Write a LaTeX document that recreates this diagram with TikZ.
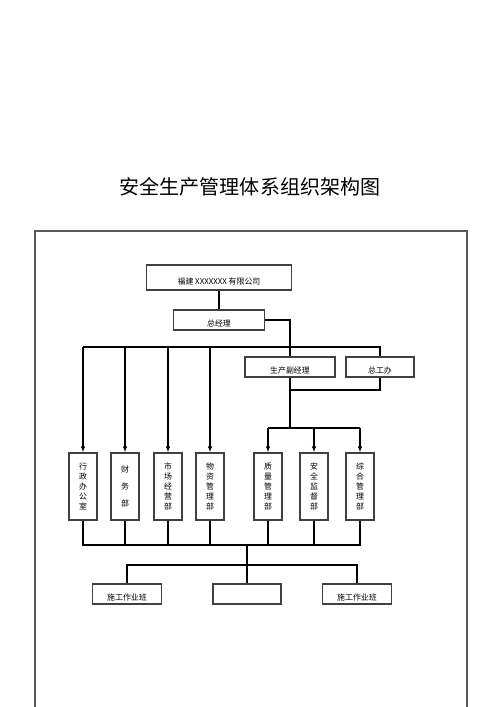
\documentclass[tikz,border=0pt]{standalone}
\usepackage{fontspec}
\setmainfont{Noto Sans CJK SC}
\usetikzlibrary{positioning}
\usetikzlibrary{arrows.meta}

\newcommand{\boxfont}{\fontsize{4.5}{5.6}\selectfont}

\begin{document}
\begin{tikzpicture}[x = 0.02cm, y = -0.02cm,
		wire/.style = {black, line width = 0.85pt},
		down/.style = {wire, -{Latex[length = 3.5pt, width = 2.6pt]}},
		hbox/.style = {draw = black!75, line width = 0.6pt, minimum height = 0.4cm, inner sep = 0pt,
			font = \boxfont, text height = 7pt, text depth = 0pt},
		vbox/.style = {draw = black!75, line width = 0.6pt, minimum width = 0.56cm, minimum height = 1.34cm,
			inner sep = 0pt, align = center, font = \boxfont}]
	\useasboundingbox (0, 0) rectangle (500, 707);
	\draw [gray!70!black, line width = 1pt] (35, 707) |- (467, 231) -- (467, 707);
	\node (title) at (250, 187) [font = \fontsize{11.4}{13}\selectfont] {安全生产管理体系组织架构图};

	\node [hbox, minimum width = 2.9cm, minimum height = 0.5cm, text height = 8.5pt] (company) at (219, 277.5) {福建 XXXXXXX 有限公司};
	\node [hbox, minimum width = 1.82cm] (manager) at (219, 320) {总经理};
	\node [hbox, minimum width = 1.8cm] (deputy) at (290, 367) {生产副经理};
	\node [hbox, minimum width = 1.36cm] (chief) at (380, 367) {总工办};

	\node [vbox] (office) at (83, 486.5) {行\\政\\办\\公\\室};
	\node [vbox] (finance) at (125, 486.5) {财\\[4pt]务\\[4pt]部};
	\node [vbox] (market) at (168, 486.5) {市\\场\\经\\营\\部};
	\node [vbox] (supply) at (210, 486.5) {物\\资\\管\\理\\部};
	\node [vbox] (quality) at (268, 486.5) {质\\量\\管\\理\\部};
	\node [vbox] (safety) at (314, 486.5) {安\\全\\监\\督\\部};
	\node [vbox] (general) at (360, 486.5) {综\\合\\管\\理\\部};

	\node [hbox, minimum width = 1.38cm] (teamA) at (127, 594) {施工作业班};
	\node [hbox, minimum width = 1.36cm] (teamB) at (247, 594) {};
	\node [hbox, minimum width = 1.38cm] (teamC) at (357, 594) {施工作业班};

	\coordinate (split) at (290, 347);
	\coordinate (join) at (290, 390);
	\coordinate (fan) at (290, 428);
	\coordinate (collect) at (247, 545);
	\coordinate (spread) at (247, 565);

	\draw [wire] (company) -- (manager);
	\draw [wire] (manager.east) -| (deputy.north);
	\draw [wire] (office |- split) -- (split) -| (chief.north);
	\draw [down] (office |- split) -- (office.north);
	\draw [down] (finance |- split) -- (finance.north);
	\draw [down] (market |- split) -- (market.north);
	\draw [down] (supply |- split) -- (supply.north);

	\draw [wire] (deputy.south) -- (join) -| (chief.south);
	\draw [wire] (join) -- (fan);
	\draw [wire] (quality |- fan) -- (general |- fan);
	\draw [down] (quality |- fan) -- (quality.north);
	\draw [down] (safety |- fan) -- (safety.north);
	\draw [down] (general |- fan) -- (general.north);

	\draw [wire] (office.south) -- (office |- collect) -- (general |- collect) -- (general.south);
	\draw [wire] (finance.south) -- (finance |- collect);
	\draw [wire] (market.south) -- (market |- collect);
	\draw [wire] (supply.south) -- (supply |- collect);
	\draw [wire] (quality.south) -- (quality |- collect);
	\draw [wire] (safety.south) -- (safety |- collect);
	\draw [wire] (collect) -- (spread);
	\draw [wire] (teamA.north) |- (spread) -| (teamC.north);
	\draw [wire] (spread) -- (teamB.north);
\end{tikzpicture}
\end{document}
